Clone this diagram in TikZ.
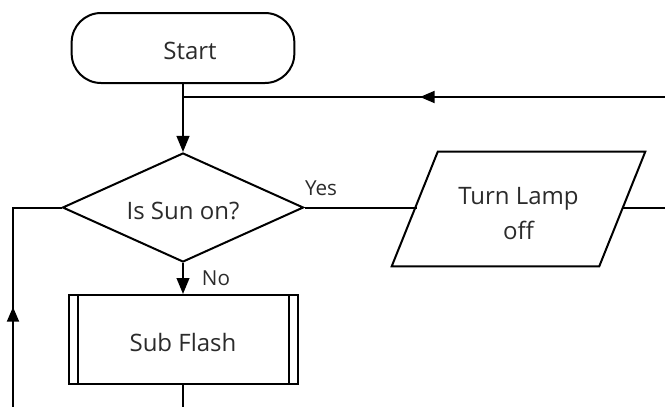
\documentclass[tikz,border=0pt]{standalone}
\usepackage{fontspec}
\setmainfont{Open Sans}
\usetikzlibrary{shapes.geometric,arrows.meta,decorations.markings}
\definecolor{txt}{HTML}{2B2B2B}
\begin{document}
\begin{tikzpicture}[x=0.75pt,y=-0.75pt,
 line/.style={line width=1.5pt},
 box/.style={draw, line width=1.5pt, text=txt, font=\fontsize{18}{26}\selectfont, inner sep=0pt, text height=18pt, text depth=0pt},
 terminal/.style={box, rounded corners=22pt, minimum width=167pt, minimum height=52.5pt},
 decision/.style={box, diamond, aspect=2.2, minimum width=180.75pt, minimum height=81.75pt},
 subproc/.style={box, minimum width=171.75pt, minimum height=66.75pt},
 io/.style={text=txt, font=\fontsize{18}{26.25}\selectfont, align=center, minimum width=155.25pt, minimum height=85.5pt, inner sep=0pt},
 lbl/.style={text=txt, font=\fontsize{15.5}{19}\selectfont, inner sep=0pt},
 tip/.style={-{Triangle[length=12pt,width=9.5pt]}},
 midarrow/.style={postaction={decorate}, decoration={markings, mark=at position #1 with {\arrow{Triangle[length=11pt,width=9pt]}}}}
]
\useasboundingbox (0,0) rectangle (665,407);
% nodes
\node[terminal] (start) at (183,48) {\hspace*{10.5pt}Start};
\node[decision] (sun) at (183,207.5) {Is Sun on?};
\node[subproc] (sub) at (183,339.5) {Sub Flash};
\draw[line] ([xshift=7.5pt]sub.north west) -- ([xshift=7.5pt]sub.south west);
\draw[line] ([xshift=-7.5pt]sub.north east) -- ([xshift=-7.5pt]sub.south east);
\node[io] (lamp) at (518.5,214) {Turn Lamp\\off};
\draw[line] ([xshift=17.25pt,yshift=3.75pt]lamp.north west) -- ([xshift=17.25pt,yshift=3.75pt]lamp.north east) -- ([xshift=-17.25pt,yshift=3.75pt]lamp.south east) -- ([xshift=-17.25pt,yshift=3.75pt]lamp.south west) -- cycle;
\node[lbl] (yes) at (321,188) {Yes};
\node[lbl] (no) at (216,278.5) {No};
% free ends
\coordinate (loopR) at (667,97);
\coordinate (lampR) at (667,207.5);
\coordinate (subB) at (183,409);
\coordinate (loopL) at (13,409);
% connectors
\draw[line,tip] (start) -- (sun);
\draw[line,midarrow=185.25pt] (loopR) -- (start.south |- loopR);
\draw[line] (sun.east) -- ([xshift=1.5pt]sun.east -| lamp.west);
\draw[line] ([xshift=0.5pt]sun.east -| lamp.east) -- (lampR);
\draw[line,tip] (sun) -- (sub);
\draw[line] (sub) -- (subB);
\draw[line,midarrow=76.5pt] (loopL) |- (sun.west);
\end{tikzpicture}
\end{document}
